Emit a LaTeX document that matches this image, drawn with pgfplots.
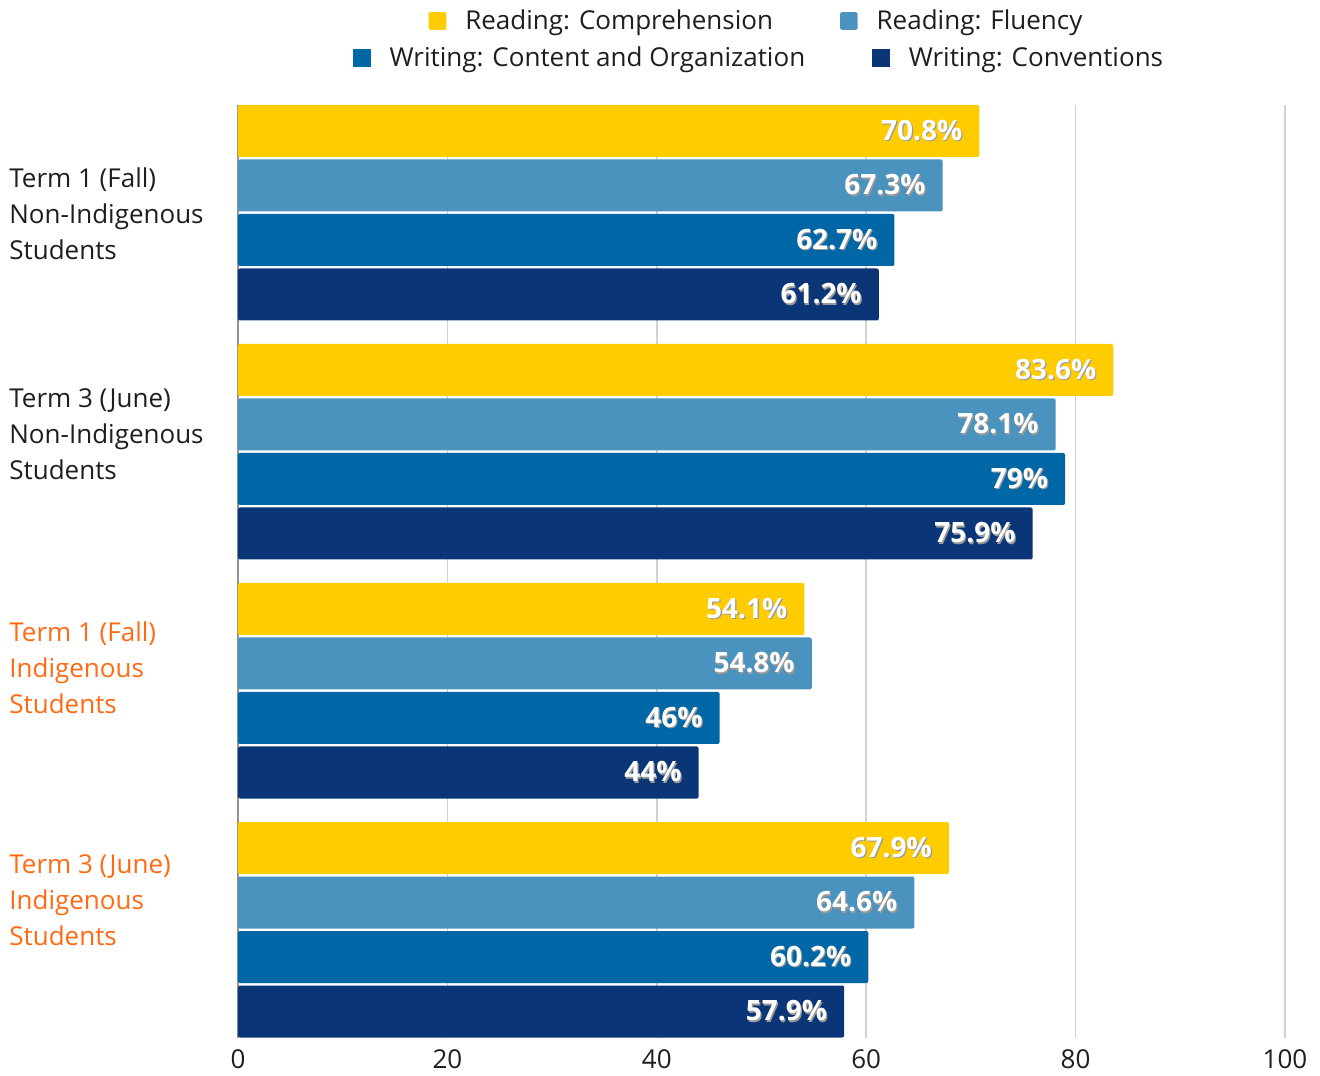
\documentclass[border=0pt]{standalone}
\usepackage{fontspec}
\setmainfont{Open Sans}
\usepackage{pgfplots}
\pgfplotsset{compat=1.18}
\definecolor{cA}{HTML}{FFCC00}
\definecolor{cB}{HTML}{4A93BE}
\definecolor{cC}{HTML}{0067A6}
\definecolor{cD}{HTML}{0A3577}
\definecolor{orT}{HTML}{FF6A13}
\definecolor{txt}{HTML}{1E1E1E}
\newcommand{\shtext}[1]{\makebox[0pt][l]{\kern0.6pt\raisebox{-0.6pt}{\textcolor{black!40}{#1}}}\textcolor{white}{#1}}
\pgfplotsset{
  sq legend/.style={legend image code/.code={\fill[##1] (0pt,-4.4pt) rectangle (8.8pt,4.4pt);}},
  common/.style={
    width=523.5pt, height=466.25pt, scale only axis,
    xmin=0, xmax=100, ymin=37.5, ymax=970,
    legend columns=2,
    legend style={draw=none, fill=none, anchor=center,
      font=\fontsize{13pt}{15pt}\selectfont, text=txt,
      nodes={inner sep=0pt},
      /tikz/every odd column/.append style={column sep=9.5pt},
      /tikz/every even column/.append style={column sep=33.5pt}},
  },
}
\begin{document}
\begin{tikzpicture}
\begin{axis}[common, name=ax,
  xbar, bar width=52, bar shift=0pt,
  axis lines=left, axis line style={-},
  x axis line style={draw=none},
  y axis line style={draw=gray!85, line width=1pt},
  xtick={0,20,...,100}, major tick length=0pt,
  xmajorgrids, grid style={draw=gray!35, line width=0.75pt},
  ytick={861,641},
  yticklabels={{Term 1 (Fall)\\Non-Indigenous\\Students},{Term 3 (June)\\Non-Indigenous\\Students}},
  extra y ticks={407,175},
  extra y tick labels={{Term 1 (Fall)\\Indigenous\\Students},{Term 3 (June)\\Indigenous\\Students}},
  extra y tick style={yticklabel style={text=orT}},
  yticklabel style={anchor=west, xshift=-114.5pt, align=left, inner sep=0pt,
    font=\fontsize{13pt}{18pt}\selectfont, text=txt},
  xticklabel style={anchor=north, inner sep=0pt, yshift=-6pt,
    font=\fontsize{13pt}{15pt}\selectfont, text=txt},
  /pgf/number format/assume math mode=true,
  point meta=explicit symbolic,
  nodes near coords={\shtext{\pgfplotspointmeta\%}},
  every node near coord/.append style={anchor=east, xshift=-5pt,
    font=\bfseries\fontsize{14pt}{16pt}\selectfont},
  legend style={at={(0.4943,1.0901)}},
  sq legend,
]
\addplot[fill=cA, draw=none, rounded corners=1pt] table[x=x, y=y, meta=l] {
x y l
70.8 944 70.8
83.6 705 83.6
54.1 466 54.1
67.9 227 67.9
};
\addlegendentry{Reading: Comprehension}
\addplot[fill=cB, draw=none, rounded corners=1pt] table[x=x, y=y, meta=l] {
x y l
67.3 889.5 67.3
78.1 650.5 78.1
54.8 411.5 54.8
64.6 172.5 64.6
};
\addlegendentry{Reading: Fluency}
\addplot[fill=cC, draw=none, rounded corners=1pt] table[x=x, y=y, meta=l] {
x y l
62.7 835 62.7
79 596 79
46 357 46
60.2 118 60.2
};
\addplot[fill=cD, draw=none, rounded corners=1pt] table[x=x, y=y, meta=l] {
x y l
61.2 780.5 61.2
75.9 541.5 75.9
44 302.5 44
57.9 63.5 57.9
};
\end{axis}
\begin{axis}[common, hide axis, sq legend, legend style={at={(0.4967,1.0504)}}]
\addlegendimage{fill=cC, draw=none}
\addlegendentry{Writing: Content and Organization}
\addlegendimage{fill=cD, draw=none}
\addlegendentry{Writing: Conventions}
\end{axis}
\pgfresetboundingbox
\path[use as bounding box] (ax.south west) ++(-119pt,-18.75pt) rectangle ++(660pt,537.5pt);
\end{tikzpicture}
\end{document}
